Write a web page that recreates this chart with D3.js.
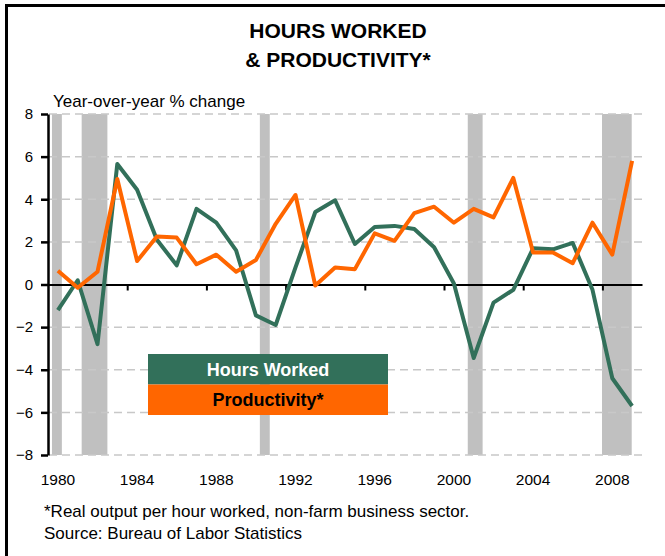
<!DOCTYPE html>
<meta charset="utf-8">
<style>
body { margin: 0; background: #fff; }
text { font-family: Arial, "Liberation Sans", sans-serif; fill: #000; }
.grid line { stroke: #c8c8c8; stroke-width: 1.5px; stroke-dasharray: 8,5; }
</style>
<svg width="665" height="556"></svg>
<script src="https://d3js.org/d3.v7.min.js"></script>
<script>
// annual % change, 1980..2009
const years = d3.range(1980, 2010);
const hoursWorked = [-1.2, 0.2, -2.8, 5.65, 4.45, 2.1, 0.9, 3.55, 2.9, 1.6, -1.45, -1.9, 0.8, 3.4, 3.95,
  1.9, 2.7, 2.75, 2.6, 1.75, 0.05, -3.45, -0.85, -0.25, 1.7, 1.65, 1.95, -0.25, -4.4, -5.7];
const productivity = [0.65, -0.15, 0.6, 4.95, 1.1, 2.25, 2.2, 0.95, 1.4, 0.6, 1.15, 2.85, 4.2, -0.05, 0.8,
  0.72, 2.4, 2.05, 3.35, 3.65, 2.9, 3.55, 3.15, 5.0, 1.5, 1.5, 1.0, 2.9, 1.4, 5.8];
// recessions as [start, end] in fractional years
const recessions = [[1980.2, 1980.7], [1981.7, 1983.0], [1990.7, 1991.2], [2001.2, 2001.95], [2007.98, 2009.48]];
const yTicks = [-8, -6, -4, -2, 0, 2, 4, 6, 8];
const xLabels = [1980, 1984, 1988, 1992, 1996, 2000, 2004, 2008];
const xTicks = [1984, 1988, 1992, 1996, 2000, 2004, 2008];
const series = [
  {name: "Hours Worked", values: hoursWorked, color: "#32705a", text: "#fff"},
  {name: "Productivity*", values: productivity, color: "#ff6600", text: "#000"}
];

const svg = d3.select("svg");

// frame
svg.append("path")
  .attr("d", "M6.5,556V5.5H665")
  .attr("fill", "none")
  .attr("stroke", "#000")
  .attr("stroke-width", 3);

svg.append("text").attr("x", 338).attr("y", 38).attr("text-anchor", "middle")
  .attr("font-size", 21).attr("font-weight", "bold").text("HOURS WORKED");
svg.append("text").attr("x", 338).attr("y", 67).attr("text-anchor", "middle")
  .attr("font-size", 21).attr("font-weight", "bold").text("& PRODUCTIVITY*");

svg.append("text").attr("x", 53).attr("y", 107).attr("font-size", 17)
  .text("Year-over-year % change");

const x = d3.scaleLinear().domain([1980, 2010]).range([48, 642]);
const y = d3.scaleLinear().domain([-8, 8]).range([455, 114]);

// recession shading
svg.append("g").selectAll("rect")
  .data(recessions)
  .join("rect")
  .attr("x", d => x(d[0]))
  .attr("width", d => x(d[1]) - x(d[0]))
  .attr("y", y(8))
  .attr("height", y(-8) - y(8))
  .attr("fill", "#c0c0c0");

// gridlines
svg.append("g").attr("class", "grid").selectAll("line")
  .data(yTicks.filter(v => v !== 0))
  .join("line")
  .attr("x1", x(1980) + 1).attr("x2", x(2010))
  .attr("y1", d => y(d)).attr("y2", d => y(d));

// zero axis with ticks between categories
const xAxis = svg.append("g")
  .attr("transform", `translate(0,${y(0)})`)
  .call(d3.axisBottom(x).tickValues(xTicks).tickSize(6).tickSizeOuter(0).tickFormat(""));
xAxis.selectAll("line, path").attr("stroke", "#000").attr("stroke-width", 2);

svg.append("g").selectAll("text")
  .data(xLabels)
  .join("text")
  .attr("x", d => x(d + 0.5))
  .attr("y", 485)
  .attr("text-anchor", "middle")
  .attr("font-size", 15.5)
  .text(d => d);

const yAxis = svg.append("g")
  .attr("transform", `translate(${x(1980)},0)`)
  .call(d3.axisLeft(y).tickValues(yTicks).tickSize(7).tickSizeOuter(0).tickPadding(8));
yAxis.selectAll("line, path").attr("stroke", "#000").attr("stroke-width", 2.5);
yAxis.selectAll("text").attr("font-size", 15).attr("font-family", null);

// lines
const line = d3.line()
  .x((d, i) => x(years[i] + 0.5))
  .y(d => y(d));

svg.append("g").selectAll("path")
  .data(series)
  .join("path")
  .attr("d", d => line(d.values))
  .attr("fill", "none")
  .attr("stroke", d => d.color)
  .attr("stroke-width", 4)
  .attr("stroke-linejoin", "round");

// legend
const legend = svg.append("g").attr("transform", "translate(148,354)");
legend.selectAll("rect")
  .data(series)
  .join("rect")
  .attr("x", 0).attr("y", (d, i) => i * 30.5)
  .attr("width", 240).attr("height", 30.5)
  .attr("fill", d => d.color);
legend.selectAll("text")
  .data(series)
  .join("text")
  .attr("x", 120).attr("y", (d, i) => 21.5 + i * 30.5)
  .attr("text-anchor", "middle")
  .attr("font-size", 18).attr("font-weight", "bold")
  .style("fill", d => d.text)
  .text(d => d.name);

// footnotes
svg.append("text").attr("x", 44).attr("y", 517).attr("font-size", 17)
  .text("*Real output per hour worked, non-farm business sector.");
svg.append("text").attr("x", 44).attr("y", 539).attr("font-size", 17)
  .text("Source: Bureau of Labor Statistics");
</script>
